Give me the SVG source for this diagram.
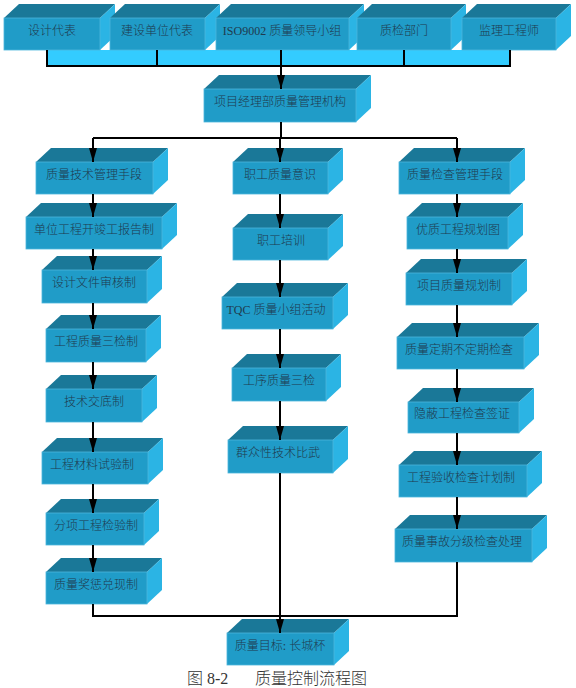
<svg xmlns="http://www.w3.org/2000/svg" width="576" height="688" viewBox="0 0 576 688">
<style>
.f{fill:#209cc8;stroke:#4cb6dc;stroke-width:0.8}
.t{fill:#1a7898}
.s{fill:#2bb4e4}
.lb{font-family:"Liberation Serif","Noto Sans CJK SC",serif;font-size:12px;font-weight:300;fill:#1f3a4e;text-anchor:middle;dominant-baseline:central}
.ln{stroke:#000;stroke-width:2;fill:none}
.cap{font-family:"Liberation Serif","Noto Sans CJK SC",serif;font-size:16px;font-weight:300;fill:#333}
</style>
<defs>
<marker id="ah" viewBox="0 0 14 8" refX="14" refY="4" markerWidth="14" markerHeight="8" markerUnits="userSpaceOnUse" orient="auto">
<path d="M0,0 L14,4 L0,8 z" fill="#000"/>
</marker>
</defs>

<rect x="47" y="50" width="463" height="16" fill="#33ccff"/>

<g id="n1"><polygon class="t" points="4,18 19,4 115,4 100,18"/><polygon class="s" points="100,18 115,4 115,36 100,50"/><rect class="f" x="4" y="18" width="96" height="32"/><text class="lb" x="52" y="31">设计代表</text></g>
<g id="n2"><polygon class="t" points="110,18 125,4 220,4 205,18"/><polygon class="s" points="205,18 220,4 220,36 205,50"/><rect class="f" x="110" y="18" width="95" height="32"/><text class="lb" x="157" y="31">建设单位代表</text></g>
<g id="n3"><polygon class="t" points="216,18 231,4 364,4 349,18"/><polygon class="s" points="349,18 364,4 364,36 349,50"/><rect class="f" x="216" y="18" width="133" height="32"/><text class="lb" x="282" y="31">ISO9002 质量领导小组</text></g>
<g id="n4"><polygon class="t" points="357,18 372,4 466,4 451,18"/><polygon class="s" points="451,18 466,4 466,36 451,50"/><rect class="f" x="357" y="18" width="94" height="32"/><text class="lb" x="404" y="31">质检部门</text></g>
<g id="n5"><polygon class="t" points="462,18 477,4 571,4 556,18"/><polygon class="s" points="556,18 571,4 571,36 556,50"/><rect class="f" x="462" y="18" width="94" height="32"/><text class="lb" x="509" y="31">监理工程师</text></g>

<g id="pm"><polygon class="t" points="204,89 219,75 371,75 356,89"/><polygon class="s" points="356,89 371,75 371,108 356,122"/><rect class="f" x="204" y="89" width="152" height="33"/><text class="lb" x="280" y="102">项目经理部质量管理机构</text></g>

<g id="L1"><polygon class="t" points="36,162 51,148 168,148 153,162"/><polygon class="s" points="153,162 168,148 168,180 153,194"/><rect class="f" x="36" y="162" width="117" height="32"/><text class="lb" x="94" y="175">质量技术管理手段</text></g>
<g id="L2"><polygon class="t" points="26,217 41,203 177,203 162,217"/><polygon class="s" points="162,217 177,203 177,235 162,249"/><rect class="f" x="26" y="217" width="136" height="32"/><text class="lb" x="94" y="230">单位工程开竣工报告制</text></g>
<g id="L3"><polygon class="t" points="42,270 57,256 162,256 147,270"/><polygon class="s" points="147,270 162,256 162,289 147,303"/><rect class="f" x="42" y="270" width="105" height="33"/><text class="lb" x="94" y="283">设计文件审核制</text></g>
<g id="L4"><polygon class="t" points="46,329 61,315 161,315 146,329"/><polygon class="s" points="146,329 161,315 161,348 146,362"/><rect class="f" x="46" y="329" width="100" height="33"/><text class="lb" x="96" y="342">工程质量三检制</text></g>
<g id="L5"><polygon class="t" points="46,389 61,375 157,375 142,389"/><polygon class="s" points="142,389 157,375 157,408 142,422"/><rect class="f" x="46" y="389" width="96" height="33"/><text class="lb" x="94" y="402">技术交底制</text></g>
<g id="L6"><polygon class="t" points="42,452 57,438 163,438 148,452"/><polygon class="s" points="148,452 163,438 163,470 148,484"/><rect class="f" x="42" y="452" width="106" height="32"/><text class="lb" x="92" y="465">工程材料试验制</text></g>
<g id="L7"><polygon class="t" points="46,513 61,499 159,499 144,513"/><polygon class="s" points="144,513 159,499 159,531 144,545"/><rect class="f" x="46" y="513" width="98" height="32"/><text class="lb" x="96" y="526">分项工程检验制</text></g>
<g id="L8"><polygon class="t" points="46,572 61,558 162,558 147,572"/><polygon class="s" points="147,572 162,558 162,590 147,604"/><rect class="f" x="46" y="572" width="101" height="32"/><text class="lb" x="96" y="585">质量奖惩兑现制</text></g>

<g id="M1"><polygon class="t" points="233,162 248,148 343,148 328,162"/><polygon class="s" points="328,162 343,148 343,180 328,194"/><rect class="f" x="233" y="162" width="95" height="32"/><text class="lb" x="280" y="175">职工质量意识</text></g>
<g id="M2"><polygon class="t" points="233,228 248,214 343,214 328,228"/><polygon class="s" points="328,228 343,214 343,246 328,260"/><rect class="f" x="233" y="228" width="95" height="32"/><text class="lb" x="281" y="241">职工培训</text></g>
<g id="M3"><polygon class="t" points="222,297 237,283 348,283 333,297"/><polygon class="s" points="333,297 348,283 348,315 333,329"/><rect class="f" x="222" y="297" width="111" height="32"/><text class="lb" x="276" y="310">TQC 质量小组活动</text></g>
<g id="M4"><polygon class="t" points="232,368 247,354 341,354 326,368"/><polygon class="s" points="326,368 341,354 341,387 326,401"/><rect class="f" x="232" y="368" width="94" height="33"/><text class="lb" x="279" y="381">工序质量三检</text></g>
<g id="M5"><polygon class="t" points="228,440 243,426 348,426 333,440"/><polygon class="s" points="333,440 348,426 348,459 333,473"/><rect class="f" x="228" y="440" width="105" height="33"/><text class="lb" x="278" y="453">群众性技术比武</text></g>

<g id="R1"><polygon class="t" points="399,162 414,148 525,148 510,162"/><polygon class="s" points="510,162 525,148 525,180 510,194"/><rect class="f" x="399" y="162" width="111" height="32"/><text class="lb" x="455" y="175">质量检查管理手段</text></g>
<g id="R2"><polygon class="t" points="407,217 422,203 523,203 508,217"/><polygon class="s" points="508,217 523,203 523,235 508,249"/><rect class="f" x="407" y="217" width="101" height="32"/><text class="lb" x="458" y="230">优质工程规划图</text></g>
<g id="R3"><polygon class="t" points="406,273 421,259 527,259 512,273"/><polygon class="s" points="512,273 527,259 527,291 512,305"/><rect class="f" x="406" y="273" width="106" height="32"/><text class="lb" x="459" y="286">项目质量规划制</text></g>
<g id="R4"><polygon class="t" points="397,337 412,323 539,323 524,337"/><polygon class="s" points="524,337 539,323 539,355 524,369"/><rect class="f" x="397" y="337" width="127" height="32"/><text class="lb" x="459" y="350">质量定期不定期检查</text></g>
<g id="R5"><polygon class="t" points="408,402 423,388 534,388 519,402"/><polygon class="s" points="519,402 534,388 534,419 519,433"/><rect class="f" x="408" y="402" width="111" height="31"/><text class="lb" x="462" y="414">隐蔽工程检查签证</text></g>
<g id="R6"><polygon class="t" points="399,465 414,451 542,451 527,465"/><polygon class="s" points="527,465 542,451 542,483 527,497"/><rect class="f" x="399" y="465" width="128" height="32"/><text class="lb" x="461" y="478">工程验收检查计划制</text></g>
<g id="R7"><polygon class="t" points="395,529 410,515 547,515 532,529"/><polygon class="s" points="532,529 547,515 547,548 532,562"/><rect class="f" x="395" y="529" width="137" height="33"/><text class="lb" x="462" y="542">质量事故分级检查处理</text></g>

<g id="goal"><polygon class="t" points="227,633 242,619 349,619 334,633"/><polygon class="s" points="334,633 349,619 349,651 334,665"/><rect class="f" x="227" y="633" width="107" height="32"/><text class="lb" x="280" y="646">质量目标: 长城杯</text></g>

<g id="connectors" class="ln">
<path d="M47,50 V66 H510 V50 M157,50 V66 M404,50 V66"/>
<path d="M281,50 V89" marker-end="url(#ah)"/>
<path d="M281,122 V138 M93,138 H457"/>
<path d="M93,138 V162" marker-end="url(#ah)"/>
<path d="M280,138 V162" marker-end="url(#ah)"/>
<path d="M457,138 V162" marker-end="url(#ah)"/>
<path d="M93,194 V217" marker-end="url(#ah)"/>
<path d="M93,249 V270" marker-end="url(#ah)"/>
<path d="M93,303 V329" marker-end="url(#ah)"/>
<path d="M93,362 V389" marker-end="url(#ah)"/>
<path d="M93,422 V452" marker-end="url(#ah)"/>
<path d="M93,484 V513" marker-end="url(#ah)"/>
<path d="M93,545 V572" marker-end="url(#ah)"/>
<path d="M93,604 V616 H457 V562"/>
<path d="M280,194 V228" marker-end="url(#ah)"/>
<path d="M280,260 V297" marker-end="url(#ah)"/>
<path d="M280,329 V368" marker-end="url(#ah)"/>
<path d="M280,401 V440" marker-end="url(#ah)"/>
<path d="M280,473 V633" marker-end="url(#ah)"/>
<path d="M457,194 V217" marker-end="url(#ah)"/>
<path d="M457,249 V273" marker-end="url(#ah)"/>
<path d="M457,305 V337" marker-end="url(#ah)"/>
<path d="M457,369 V402" marker-end="url(#ah)"/>
<path d="M457,433 V465" marker-end="url(#ah)"/>
<path d="M457,497 V529" marker-end="url(#ah)"/>
</g>

<text class="cap" y="684"><tspan x="187">图 8-2</tspan><tspan x="255">质量控制流程图</tspan></text>
</svg>
